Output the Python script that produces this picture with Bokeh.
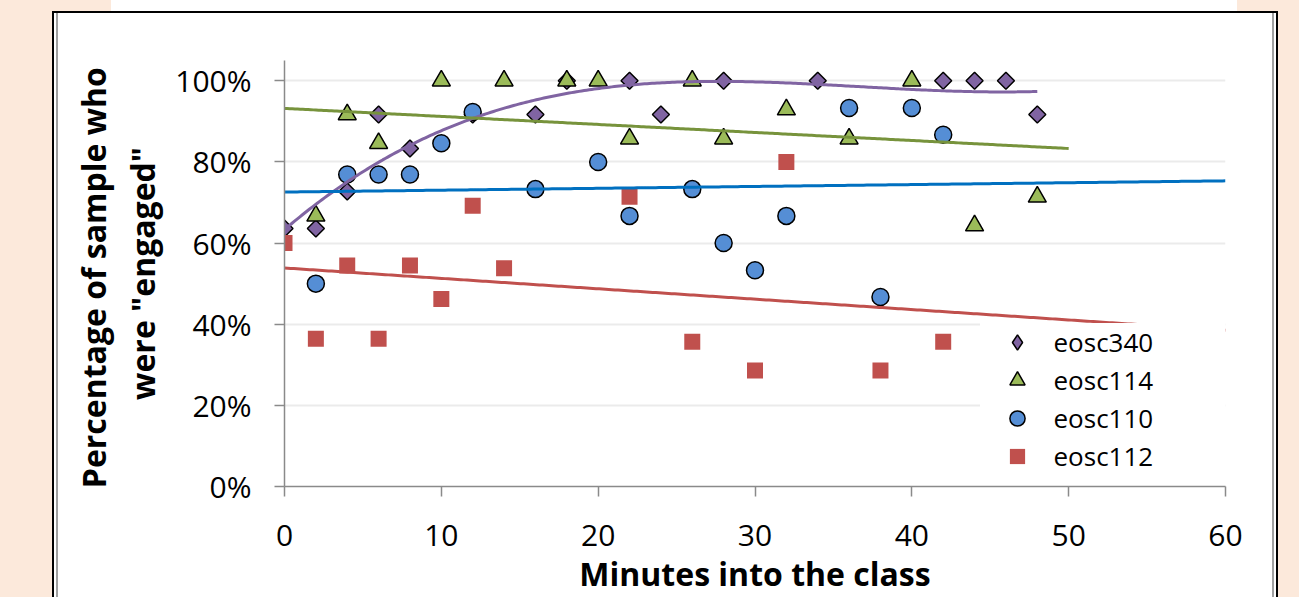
import numpy as np
from bokeh.plotting import figure
from bokeh.models import (FixedTicker, PrintfTickFormatter, Legend, LegendItem, Range1d)
from bokeh.embed import file_html
from bokeh.resources import INLINE

# ---- data (percent of sample engaged, by minute into the class) ----
x_340 = [0, 2, 4, 6, 8, 12, 16, 18, 22, 24, 28, 34, 42, 44, 46, 48]
y_340 = [63.6, 63.6, 72.7, 91.7, 83.3, 91.7, 91.7, 100, 100, 91.7, 100, 100, 100, 100, 100, 91.7]

x_114 = [2, 4, 6, 10, 14, 18, 20, 22, 26, 28, 32, 36, 40, 44, 48]
y_114 = [66.7, 91.7, 84.6, 100, 100, 100, 100, 85.7, 100, 85.7, 92.9, 85.7, 100, 64.3, 71.4]

x_110 = [2, 4, 6, 8, 10, 12, 16, 20, 22, 26, 28, 30, 32, 36, 38, 40, 42]
y_110 = [50, 76.9, 76.9, 76.9, 84.6, 92.3, 73.3, 80, 66.7, 73.3, 60, 53.3, 66.7, 93.3, 46.7, 93.3, 86.7]

x_112 = [0, 2, 4, 6, 8, 10, 12, 14, 22, 26, 30, 32, 38, 42]
y_112 = [60, 36.4, 54.5, 36.4, 54.5, 46.2, 69.2, 53.8, 71.4, 35.7, 28.6, 80, 28.6, 35.7]

series_names = ["eosc340", "eosc114", "eosc110", "eosc112"]
x_ticks = [0, 10, 20, 30, 40, 50, 60]
y_ticks = [0, 20, 40, 60, 80, 100]

PEACH = "#FCE9DB"
AXIS = "#8A8A8A"
FONT = "Open Sans"


def trend(xs, ys, deg, x_end):
    coef = np.polyfit(xs, ys, deg)
    xx = np.linspace(0, x_end, 300)
    return xx, np.polyval(coef, xx)


def solid(c):
    return f"linear-gradient({c}, {c})"


# page background + picture frame, painted by CSS behind the transparent border area
stripes = ("linear-gradient(to right, "
           f"{PEACH} 0px, {PEACH} 52px, #000 52px, #000 54px, #fff 54px, #fff 56px, "
           "#A0A0A0 56px, #A0A0A0 57.5px, #fff 57.5px, #fff 1272px, "
           "#A0A0A0 1272px, #A0A0A0 1273.5px, #fff 1273.5px, #fff 1276px, "
           f"#000 1276px, #000 1278px, {PEACH} 1278px, {PEACH} 100%)")
frame_css = {
    "background-image": ", ".join([solid(PEACH), solid(PEACH), solid("#000"), stripes]),
    "background-position": "52px 0px, 1237px 0px, 52px 11px, 0px 0px",
    "background-size": "59px 11px, 41px 11px, 1226px 2px, 100% 100%",
    "background-repeat": "no-repeat",
}

p = figure(width=1299, height=597, output_backend="svg", toolbar_location=None,
           x_range=Range1d(0, 60), y_range=Range1d(0, 105),
           min_border_left=284, min_border_right=74, min_border_top=60, min_border_bottom=110,
           border_fill_alpha=0, background_fill_color="white", outline_line_color=None,
           styles=frame_css)

r340 = p.scatter(x_340, y_340, marker="square", angle=np.pi / 4, size=12,
                 fill_color="#8064A2", line_color="black", line_width=1.5)
r114 = p.scatter(x_114, y_114, marker="triangle", size=18,
                 fill_color="#9BBB59", line_color="black", line_width=1.5)
r110 = p.scatter(x_110, y_110, marker="circle", size=17,
                 fill_color="#558ED5", line_color="black", line_width=1.5)
r112 = p.scatter(x_112, y_112, marker="square", size=16,
                 fill_color="#C0504D", line_color=None)
# legend swatch for the diamond series (the legend does not rotate markers)
k340 = p.scatter([np.nan], [np.nan], marker="diamond", size=12,
                 fill_color="#8064A2", line_color="black", line_width=1.5)

tx, ty = trend(x_340, y_340, 3, 48)
p.line(tx, ty, line_color="#8064A2", line_width=3)
tx, ty = trend(x_114, y_114, 1, 50)
p.line(tx, ty, line_color="#77933C", line_width=3)
tx, ty = trend(x_110, y_110, 1, 60)
p.line(tx, ty, line_color="#0070C0", line_width=3)
tx, ty = trend(x_112, y_112, 1, 60)
p.line(tx, ty, line_color="#C0504D", line_width=3)

legend = Legend(items=[LegendItem(label=n, renderers=[r])
                       for n, r in zip(series_names, [k340, r114, r110, r112])],
                location=(695.5, 10.7), padding=0, margin=0, spacing=0,
                glyph_width=74, glyph_height=38, label_height=38, label_width=173,
                label_standoff=0, label_text_font=FONT, label_text_font_size="26px",
                label_text_color="black", border_line_color=None,
                background_fill_color="white", background_fill_alpha=1)
p.add_layout(legend)

p.xgrid.grid_line_color = None
p.ygrid.ticker = FixedTicker(ticks=y_ticks)
p.ygrid.grid_line_color = "#EBEBEB"
p.ygrid.grid_line_width = 2

p.xaxis.ticker = FixedTicker(ticks=x_ticks)
p.yaxis.ticker = FixedTicker(ticks=y_ticks)
p.yaxis.formatter = PrintfTickFormatter(format="%d%%")

for ax in (p.xaxis[0], p.yaxis[0]):
    ax.axis_line_color = AXIS
    ax.axis_line_width = 1.5
    ax.major_tick_line_color = AXIS
    ax.major_tick_line_width = 1.5
    ax.major_tick_out = 10
    ax.major_tick_in = 0
    ax.minor_tick_line_color = None
    ax.major_label_text_font = FONT
    ax.major_label_text_font_size = "30px"
    ax.major_label_text_color = "black"
    ax.axis_label_text_font = FONT
    ax.axis_label_text_font_size = "32px"
    ax.axis_label_text_font_style = "bold"
    ax.axis_label_text_color = "black"

p.xaxis.major_label_standoff = 28
p.xaxis.axis_label = "Minutes into the class"
p.xaxis.axis_label_standoff = 3

p.yaxis.major_label_standoff = 23
p.yaxis.axis_label = 'Percentage of sample  who\nwere "engaged"'
p.yaxis.axis_label_standoff = 8
p.yaxis.axis_label_text_line_height = 1.15
p.yaxis.axis_label_text_align = "center"

open("out.html", "w").write(file_html(p, INLINE))
